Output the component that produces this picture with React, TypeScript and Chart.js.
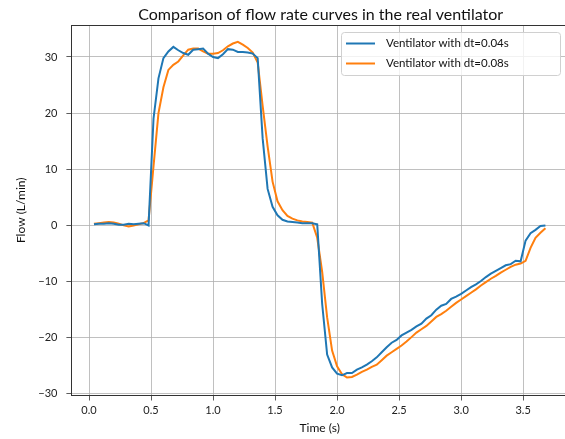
import React, { useEffect, useRef } from "react";
import { Chart, registerables } from "chart.js";

Chart.register(...registerables);

const TITLE = "Comparison of flow rate curves in the real ventilator";
const X_LABEL = "Time (s)";
const Y_LABEL = "Flow (L/min)";
const SERIES_NAMES = ["Ventilator with dt=0.04s", "Ventilator with dt=0.08s"];
const SERIES_COLORS = ["#1f77b4", "#ff7f0e"];

const times = [
  0.04, 0.08, 0.12, 0.16, 0.2, 0.24, 0.28, 0.32, 0.36, 0.4,
  0.44, 0.48, 0.52, 0.56, 0.6, 0.64, 0.68, 0.72, 0.76, 0.8,
  0.84, 0.88, 0.92, 0.96, 1.0, 1.04, 1.08, 1.12, 1.16, 1.2,
  1.24, 1.28, 1.32, 1.36, 1.4, 1.44, 1.48, 1.52, 1.56, 1.6,
  1.64, 1.68, 1.72, 1.76, 1.8, 1.84, 1.88, 1.92, 1.96, 2.0,
  2.04, 2.08, 2.12, 2.16, 2.2, 2.24, 2.28, 2.32, 2.36, 2.4,
  2.44, 2.48, 2.52, 2.56, 2.6, 2.64, 2.68, 2.72, 2.76, 2.8,
  2.84, 2.88, 2.92, 2.96, 3.0, 3.04, 3.08, 3.12, 3.16, 3.2,
  3.24, 3.28, 3.32, 3.36, 3.4, 3.44, 3.48, 3.52, 3.56, 3.6,
  3.64, 3.68,
];

const flowDt004 = [
  0.2, 0.3, 0.3, 0.4, 0.3, 0.1, 0.1, 0.3, 0.2, 0.3,
  0.4, 0.0, 19.0, 26.2, 29.8, 31.0, 31.8, 31.2, 30.7, 30.4,
  31.3, 31.4, 31.5, 30.6, 30.0, 29.8, 30.5, 31.4, 31.3, 30.9,
  30.9, 30.8, 30.6, 29.8, 15.5, 6.5, 3.3, 1.8, 1.0, 0.7,
  0.6, 0.5, 0.4, 0.4, 0.4, 0.2, -14.0, -23.0, -25.3, -26.4,
  -26.7, -26.3, -26.3, -25.7, -25.3, -24.8, -24.2, -23.5, -22.6, -21.7,
  -20.9, -20.4, -19.6, -19.1, -18.6, -18.0, -17.5, -16.6, -16.0, -15.0,
  -14.3, -14.0, -13.1, -12.7, -12.2, -11.6, -11.0, -10.5, -9.9, -9.2,
  -8.6, -8.1, -7.6, -7.1, -6.9, -6.3, -6.4, -2.7, -1.4, -0.8,
  -0.1, 0.0,
];

const flowDt008 = [
  0.3, 0.4, 0.5, 0.6, 0.5, 0.3, 0.0, -0.2, 0.0, 0.2,
  0.4, 0.9, 10.5, 20.0, 24.6, 27.7, 28.6, 29.2, 30.3, 31.3,
  31.5, 31.5, 31.0, 30.6, 30.6, 30.7, 31.2, 31.9, 32.4, 32.7,
  32.2, 31.6, 30.8, 29.0, 21.3, 14.1, 7.8, 4.3, 2.7, 1.7,
  1.2, 0.9, 0.7, 0.6, 0.5, -2.2, -8.3, -16.4, -22.3, -25.1,
  -26.5, -27.1, -27.0, -26.6, -26.1, -25.7, -25.2, -24.8, -24.0, -23.2,
  -22.6, -22.0, -21.4, -20.7, -19.9, -19.1, -18.5, -17.9, -17.1, -16.3,
  -15.8, -15.2, -14.5, -13.8, -13.2, -12.6, -12.0, -11.4, -10.7, -10.1,
  -9.5, -9.0, -8.4, -7.9, -7.4, -7.0, -6.8, -6.3, -4.0, -2.2,
  -1.3, -0.5,
];

const xTicks = [0, 0.5, 1.0, 1.5, 2.0, 2.5, 3.0, 3.5];
const xTickLabels = ["0.0", "0.5", "1.0", "1.5", "2.0", "2.5", "3.0", "3.5"];
const yTicks = [-30, -20, -10, 0, 10, 20, 30];
const yTickLabels = ["\u221230", "\u221220", "\u221210", "0", "10", "20", "30"];

const FONT = "Lato";

const decorPlugin = {
  id: "decor",
  afterDraw(chart: any) {
    const ctx = chart.ctx as CanvasRenderingContext2D;
    const a = chart.chartArea;
    ctx.save();
    ctx.strokeStyle = "#333333";
    ctx.lineWidth = 1;
    ctx.beginPath();
    ctx.moveTo(a.left, a.top + 0.5);
    ctx.lineTo(a.right, a.top + 0.5);
    ctx.moveTo(a.right - 0.5, a.top);
    ctx.lineTo(a.right - 0.5, a.bottom);
    ctx.stroke();

    const cx = (a.left + a.right) / 2;
    ctx.fillStyle = "#111111";
    ctx.textAlign = "center";
    ctx.textBaseline = "alphabetic";
    ctx.font = `16px ${FONT}`;
    ctx.fillText(TITLE, cx + 1, 20);

    ctx.font = `12px ${FONT}`;
    ctx.textBaseline = "middle";
    ctx.fillText(X_LABEL, cx, 428);

    ctx.save();
    ctx.translate(21, (a.top + a.bottom) / 2);
    ctx.rotate(-Math.PI / 2);
    ctx.fillText(Y_LABEL, 0, 0);
    ctx.restore();

    const lx = 341.5, ly = 32.5, lw = 219, lh = 43;
    ctx.beginPath();
    (ctx as any).roundRect(lx, ly, lw, lh, 3);
    ctx.fillStyle = "rgba(255,255,255,0.8)";
    ctx.fill();
    ctx.strokeStyle = "#d0d0d0";
    ctx.lineWidth = 1;
    ctx.stroke();
    ctx.textAlign = "left";
    ctx.textBaseline = "middle";
    ctx.font = `11.5px ${FONT}`;
    SERIES_NAMES.forEach((name, i) => {
      const y = 43.5 + i * 20;
      ctx.strokeStyle = SERIES_COLORS[i];
      ctx.lineWidth = 2;
      ctx.beginPath();
      ctx.moveTo(346, y);
      ctx.lineTo(375, y);
      ctx.stroke();
      ctx.fillStyle = "#111111";
      ctx.fillText(name, 386, y);
    });
    ctx.restore();
  },
};

export default function App() {
  const ref = useRef<HTMLCanvasElement | null>(null);
  useEffect(() => {
    document.documentElement.style.overflow = "hidden";
    document.body.style.overflow = "hidden";
    const canvas = ref.current;
    if (!canvas) return;
    const chart = new Chart(canvas, {
      type: "line",
      data: {
        datasets: [flowDt004, flowDt008].map((vals, i) => ({
          label: SERIES_NAMES[i],
          data: times.map((t, k) => ({ x: t, y: vals[k] })),
          borderColor: SERIES_COLORS[i],
          backgroundColor: SERIES_COLORS[i],
          borderWidth: 2,
          pointRadius: 0,
          tension: 0,
          fill: false,
        })),
      },
      options: {
        animation: false,
        responsive: false,
        devicePixelRatio: 1,
        layout: { padding: { left: 0, right: 7, top: 25, bottom: 0 } },
        plugins: {
          legend: { display: false },
          title: { display: false },
          tooltip: { enabled: false },
        },
        scales: {
          x: {
            type: "linear",
            min: -0.142,
            max: 3.862,
            afterBuildTicks: (scale: any) => {
              scale.ticks = xTicks.map((v) => ({ value: v }));
            },
            afterFit: (scale: any) => {
              scale.height = 43.5;
            },
            grid: {
              color: "#b0b0b0",
              lineWidth: 0.8,
              tickColor: "#333333",
              tickLength: 5,
            },
            border: { display: true, color: "#333333", width: 1 },
            ticks: {
              autoSkip: false,
              maxRotation: 0,
              padding: 3,
              color: "#222222",
              font: { family: FONT, size: 11 },
              callback: (_v: any, i: number) => xTickLabels[i],
            },
          },
          y: {
            type: "linear",
            min: -30.3,
            max: 35.7,
            afterBuildTicks: (scale: any) => {
              scale.ticks = yTicks.map((v) => ({ value: v }));
            },
            afterFit: (scale: any) => {
              scale.width = 71.4;
            },
            grid: {
              color: "#b0b0b0",
              lineWidth: 0.8,
              tickColor: "#333333",
              tickLength: 5,
            },
            border: { display: true, color: "#333333", width: 1 },
            ticks: {
              autoSkip: false,
              padding: 9,
              color: "#222222",
              font: { family: FONT, size: 11 },
              callback: (_v: any, i: number) => yTickLabels[i],
            },
          },
        },
      },
      plugins: [decorPlugin],
    });
    return () => chart.destroy();
  }, []);
  return (
    <div style={{ position: "fixed", left: 0, top: 0, width: 575, height: 439, background: "#fff" }}>
      <canvas ref={ref} width={575} height={439} style={{ display: "block" }} />
    </div>
  );
}
